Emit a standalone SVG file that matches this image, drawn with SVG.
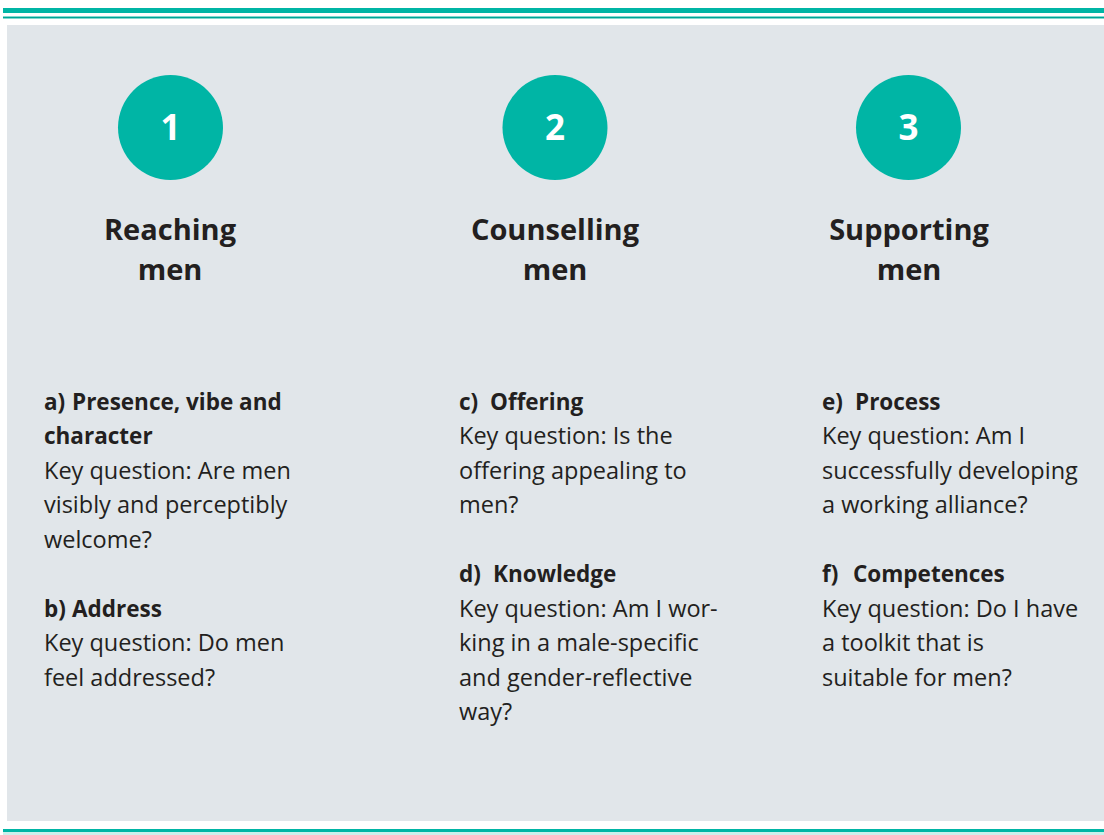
<svg xmlns="http://www.w3.org/2000/svg" width="1104" height="835" viewBox="0 0 1104 835">
  <style>
    .num { font-family: "Open Sans", "Noto Sans", sans-serif; font-weight: 700; font-size: 35px; fill: #ffffff; text-anchor: middle; }
    .head { font-family: "Open Sans", "Noto Sans", sans-serif; font-weight: 700; font-size: 29px; fill: #231f20; text-anchor: middle; }
    .sub { font-family: "Open Sans", "Noto Sans", sans-serif; font-weight: 700; font-size: 22.5px; fill: #231f20; }
    .body { font-family: "Open Sans", "Noto Sans", sans-serif; font-weight: 400; font-size: 23.5px; fill: #231f20; }
    .badge { fill: #00b5a5; }
  </style>

  <!-- page frame -->
  <rect x="0" y="0" width="1104" height="835" fill="#ffffff"/>
  <rect x="3" y="8" width="1101" height="5" fill="#00b5a5"/>
  <rect x="3" y="16" width="1101" height="3" fill="#7fd9d0"/>
  <rect x="3" y="17" width="1101" height="1" fill="#00a596"/>
  <rect x="7" y="25" width="1097" height="796" fill="#e1e6ea"/>
  <rect x="3" y="829" width="1101" height="3" fill="#00b5a5"/>
  <rect x="3" y="832" width="1101" height="3" fill="#ccf0ec"/>

  <!-- column 1 -->
  <g id="step-1">
    <circle class="badge" cx="170.5" cy="127.5" r="52.5"/>
    <text class="num" x="170.5" y="140">1</text>
    <text class="head" x="170" y="240">Reaching</text>
    <text class="head" x="170" y="280">men</text>
  </g>
  <g id="items-a-b">
    <text class="sub" x="44" y="409.5">a)<tspan x="72">Presence, vibe and</tspan></text>
    <text class="sub" x="44" y="444">character</text>
    <text class="body" x="44" y="478.5">Key question: Are men</text>
    <text class="body" x="44" y="513">visibly and perceptibly</text>
    <text class="body" x="44" y="547.5">welcome?</text>
    <text class="sub" x="44" y="616.5">b)<tspan x="72">Address</tspan></text>
    <text class="body" x="44" y="651">Key question: Do men</text>
    <text class="body" x="44" y="685.5">feel addressed?</text>
  </g>

  <!-- column 2 -->
  <g id="step-2">
    <circle class="badge" cx="555" cy="127.5" r="52.5"/>
    <text class="num" x="555" y="140">2</text>
    <text class="head" x="555" y="240">Counselling</text>
    <text class="head" x="555" y="280">men</text>
  </g>
  <g id="items-c-d">
    <text class="sub" x="459" y="409.5">c)<tspan x="490">Offering</tspan></text>
    <text class="body" x="459" y="444">Key question: Is the</text>
    <text class="body" x="459" y="478.5">offering appealing to</text>
    <text class="body" x="459" y="513">men?</text>
    <text class="sub" x="459" y="582">d)<tspan x="493">Knowledge</tspan></text>
    <text class="body" x="459" y="616.5">Key question: Am I wor-</text>
    <text class="body" x="459" y="651">king in a male-specific</text>
    <text class="body" x="459" y="685.5">and gender-reflective</text>
    <text class="body" x="459" y="720">way?</text>
  </g>

  <!-- column 3 -->
  <g id="step-3">
    <circle class="badge" cx="908.5" cy="127.5" r="52.5"/>
    <text class="num" x="908.5" y="140">3</text>
    <text class="head" x="909" y="240">Supporting</text>
    <text class="head" x="909" y="280">men</text>
  </g>
  <g id="items-e-f">
    <text class="sub" x="822" y="409.5">e)<tspan x="855">Process</tspan></text>
    <text class="body" x="822" y="444">Key question: Am I</text>
    <text class="body" x="822" y="478.5">successfully developing</text>
    <text class="body" x="822" y="513">a working alliance?</text>
    <text class="sub" x="822" y="582">f)<tspan x="853">Competences</tspan></text>
    <text class="body" x="822" y="616.5">Key question: Do I have</text>
    <text class="body" x="822" y="651">a toolkit that is</text>
    <text class="body" x="822" y="685.5">suitable for men?</text>
  </g>

  <g id="connectors"/>
</svg>
